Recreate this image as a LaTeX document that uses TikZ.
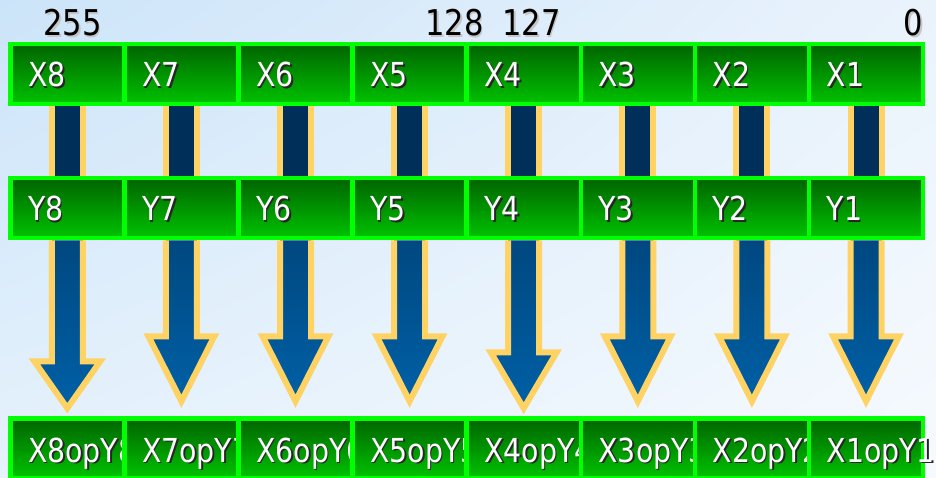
\documentclass[tikz,border=0pt]{standalone}
\usepackage{fontspec}
\setmainfont{DejaVu Sans}[FakeStretch=0.86]
\usetikzlibrary{positioning, calc, shadings}

\definecolor{bgul}{RGB}{204,228,249}
\definecolor{bgur}{RGB}{234,243,252}
\definecolor{bgll}{RGB}{230,242,252}
\definecolor{bglr}{RGB}{246,250,254}
\definecolor{cellline}{RGB}{0,255,0}
\definecolor{celltop}{RGB}{0,100,0}
\definecolor{cellbot}{RGB}{0,195,0}
\definecolor{shaftnavy}{RGB}{0,48,90}
\definecolor{arrowtop}{RGB}{0,72,128}
\definecolor{arrowbot}{RGB}{0,96,166}
\definecolor{arrowedge}{RGB}{255,210,100}

% white label with a dark drop shadow
\newcommand{\celltext}[1]{\makebox[0pt][l]{\hspace{1.6pt}\raisebox{-1.6pt}{\color{black!85}#1}}#1}
% black number with a light shadow
\newcommand{\bittext}[1]{\makebox[0pt][l]{\hspace{1.8pt}\raisebox{-1.8pt}{\color{gray!45}#1}}#1}

\begin{document}
\begin{tikzpicture}[
  x=1pt, y=-1pt,
  cell/.style={
    rectangle,
    draw=cellline,
    line width=4.5pt,
    top color=celltop,
    bottom color=cellbot,
    minimum height=60pt,
    text width=78.6pt,
    inner xsep=17.75pt,
    text height=25pt,
    text depth=0pt,
    align=left,
    text=white,
    font=\fontsize{33}{38}\selectfont
  },
  bitno/.style={inner sep=0pt, font=\fontsize{35.5}{40}\selectfont},
  shaft/.style={draw=arrowedge, line width=6pt, double=shaftnavy, double distance=25pt},
  blockarrow/.style={draw=arrowedge, line width=6pt, top color=arrowtop, bottom color=arrowbot}
]

\useasboundingbox (0,0) rectangle (936,478);
\clip (0,0) rectangle (936,478);
\shade[upper left=bgul, upper right=bgur, lower left=bgll, lower right=bglr]
  (0,0) rectangle (936,478);

% ------------------------------------------------------------
% Operand X
% ------------------------------------------------------------

\node[cell, anchor=north west] (x8) at (8,42) {\celltext{X8}};
\node[cell, right=-4.5pt of x8] (x7) {\celltext{X7}};
\node[cell, right=-4.5pt of x7] (x6) {\celltext{X6}};
\node[cell, right=-4.5pt of x6] (x5) {\celltext{X5}};
\node[cell, right=-4.5pt of x5] (x4) {\celltext{X4}};
\node[cell, right=-4.5pt of x4] (x3) {\celltext{X3}};
\node[cell, right=-4.5pt of x3] (x2) {\celltext{X2}};
\node[cell, right=-4.5pt of x2] (x1) {\celltext{X1}};

% bit positions
\node[bitno, anchor=base west] (b255) at (43,36) {\bittext{255}};
\node[bitno, anchor=base west] (b128) at (425,36) {\bittext{128}};
\node[bitno, anchor=base west] (b127) at (502,36) {\bittext{127}};
\node[bitno, anchor=base east] (b0) at (923,36) {\bittext{0}};

% ------------------------------------------------------------
% Operand Y
% ------------------------------------------------------------

\node[cell, below=69.5pt of x8] (y8) {\celltext{Y8}};
\node[cell, right=-4.5pt of y8] (y7) {\celltext{Y7}};
\node[cell, right=-4.5pt of y7] (y6) {\celltext{Y6}};
\node[cell, right=-4.5pt of y6] (y5) {\celltext{Y5}};
\node[cell, right=-4.5pt of y5] (y4) {\celltext{Y4}};
\node[cell, right=-4.5pt of y4] (y3) {\celltext{Y3}};
\node[cell, right=-4.5pt of y3] (y2) {\celltext{Y2}};
\node[cell, right=-4.5pt of y2] (y1) {\celltext{Y1}};

% ------------------------------------------------------------
% Result
% ------------------------------------------------------------

\node[cell, below=175.5pt of y8, text height=28pt] (r8) {\celltext{X8opY8}};
\node[cell, right=-4.5pt of r8, text height=28pt] (r7) {\celltext{X7opY7}};
\node[cell, right=-4.5pt of r7, text height=28pt] (r6) {\celltext{X6opY6}};
\node[cell, right=-4.5pt of r6, text height=28pt] (r5) {\celltext{X5opY5}};
\node[cell, right=-4.5pt of r5, text height=28pt] (r4) {\celltext{X4opY4}};
\node[cell, right=-4.5pt of r4, text height=28pt] (r3) {\celltext{X3opY3}};
\node[cell, right=-4.5pt of r3, text height=28pt] (r2) {\celltext{X2opY2}};
\node[cell, right=-4.5pt of r2, text height=28pt] (r1) {\celltext{X1opY1}};

% ------------------------------------------------------------
% X feeds Y
% ------------------------------------------------------------

\draw[shaft] (x8.south) -- (y8.north);
\draw[shaft] (x7.south) -- (y7.north);
\draw[shaft] (x6.south) -- (y6.north);
\draw[shaft] (x5.south) -- (y5.north);
\draw[shaft] (x4.south) -- (y4.north);
\draw[shaft] (x3.south) -- (y3.north);
\draw[shaft] (x2.south) -- (y2.north);
\draw[shaft] (x1.south) -- (y1.north);

% ------------------------------------------------------------
% Y feeds the result
% ------------------------------------------------------------

\coordinate (t8) at ($(r8.north)+(0,-7.75)$);
\coordinate (t7) at ($(r7.north)+(0,-14.75)$);
\coordinate (t6) at ($(r6.north)+(0,-14.75)$);
\coordinate (t5) at ($(r5.north)+(0,-14.75)$);
\coordinate (t4) at ($(r4.north)+(0,-7.75)$);
\coordinate (t3) at ($(r3.north)+(0,-14.75)$);
\coordinate (t2) at ($(r2.north)+(0,-14.75)$);
\coordinate (t1) at ($(r1.north)+(0,-14.75)$);

\shade[blockarrow] ($(y8.south)+(-15.5,0)$) -- ($(t8)+(-15.5,-47)$) -- ($(t8)+(-33,-47)$) -- (t8) -- ($(t8)+(33,-47)$) -- ($(t8)+(15.5,-47)$) -- ($(y8.south)+(15.5,0)$);
\shade[blockarrow] ($(y7.south)+(-15.5,0)$) -- ($(t7)+(-15.5,-65)$) -- ($(t7)+(-33,-65)$) -- (t7) -- ($(t7)+(33,-65)$) -- ($(t7)+(15.5,-65)$) -- ($(y7.south)+(15.5,0)$);
\shade[blockarrow] ($(y6.south)+(-15.5,0)$) -- ($(t6)+(-15.5,-65)$) -- ($(t6)+(-33,-65)$) -- (t6) -- ($(t6)+(33,-65)$) -- ($(t6)+(15.5,-65)$) -- ($(y6.south)+(15.5,0)$);
\shade[blockarrow] ($(y5.south)+(-15.5,0)$) -- ($(t5)+(-15.5,-65)$) -- ($(t5)+(-33,-65)$) -- (t5) -- ($(t5)+(33,-65)$) -- ($(t5)+(15.5,-65)$) -- ($(y5.south)+(15.5,0)$);
\shade[blockarrow] ($(y4.south)+(-15.5,0)$) -- ($(t4)+(-15.5,-56)$) -- ($(t4)+(-33,-56)$) -- (t4) -- ($(t4)+(33,-56)$) -- ($(t4)+(15.5,-56)$) -- ($(y4.south)+(15.5,0)$);
\shade[blockarrow] ($(y3.south)+(-15.5,0)$) -- ($(t3)+(-15.5,-65)$) -- ($(t3)+(-33,-65)$) -- (t3) -- ($(t3)+(33,-65)$) -- ($(t3)+(15.5,-65)$) -- ($(y3.south)+(15.5,0)$);
\shade[blockarrow] ($(y2.south)+(-15.5,0)$) -- ($(t2)+(-15.5,-65)$) -- ($(t2)+(-33,-65)$) -- (t2) -- ($(t2)+(33,-65)$) -- ($(t2)+(15.5,-65)$) -- ($(y2.south)+(15.5,0)$);
\shade[blockarrow] ($(y1.south)+(-15.5,0)$) -- ($(t1)+(-15.5,-65)$) -- ($(t1)+(-33,-65)$) -- (t1) -- ($(t1)+(33,-65)$) -- ($(t1)+(15.5,-65)$) -- ($(y1.south)+(15.5,0)$);

\end{tikzpicture}
\end{document}
